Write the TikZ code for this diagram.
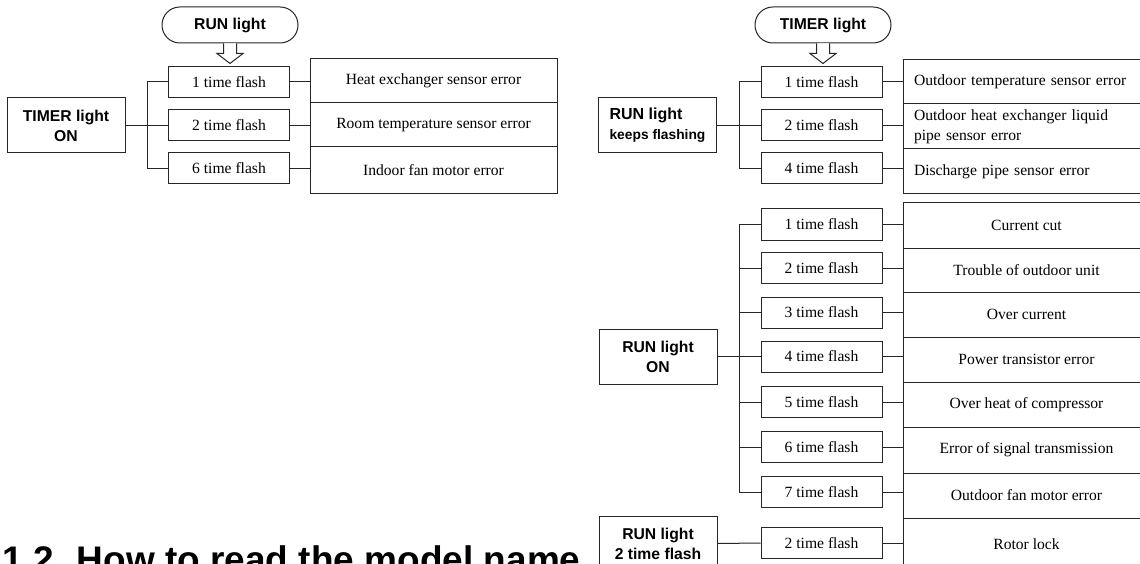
\documentclass[tikz,border=0pt]{standalone}
\usepackage{fontspec}
\setmainfont{Liberation Serif}
\newfontfamily\hv{Liberation Sans}
\usetikzlibrary{calc}
\tikzset{
  ln/.style={draw=black!85, line width=1pt},
  wire/.style={draw=black!85, line width=1pt},
  oval/.style={ln, rounded corners=17.9pt, minimum width=136pt, minimum height=36pt, inner sep=0pt,
    font=\hv\bfseries\fontsize{15.7}{18}\selectfont},
  flash/.style={ln, minimum width=121pt, minimum height=31pt, inner sep=0pt,
    font=\fontsize{15.6}{18}\selectfont},
  state/.style={ln, minimum width=118pt, minimum height=55pt, inner sep=0pt, align=center,
    font=\hv\bfseries\fontsize{15.7}{20}\selectfont},
  err/.style={ln, minimum width=247pt, inner sep=0pt, align=center,
    font=\fontsize{15.6}{20}\selectfont},
  errl/.style={err, align=left, text width=225pt},
  hollow/.style={wire, fill=white, line join=miter},
}
\begin{document}
\begin{tikzpicture}[x=1pt,y=-1pt]
\useasboundingbox (0,0) rectangle (1140,564);
\clip (0,0) rectangle (1140,564);
\fill[white] (0,0) rectangle (1140,564);

% ---------- left diagram ----------
\node[oval] (run) at (230,25) {RUN light};
\node[flash] (f1) at (229,82) {1 time flash};
\node[flash] (f2) at (229,125.5) {2 time flash};
\node[flash] (f6) at (229,168.5) {6 time flash};
\node[state] (ton) at (66,125.5) {TIMER light\\ON};
\node[err, minimum height=44pt] (e1) at (433.5,81) {Heat exchanger sensor error};
\node[err, minimum height=44pt] (e2) at (433.5,125) {Room temperature sensor error};
\node[err, minimum height=47pt] (e3) at (433.5,170.5) {Indoor fan motor error};

\draw[hollow] ($(run.south)+(-6.5,0)$) -- ++(0,10) -- ++(-6.5,0) -- ($(run.south)+(0,20)$)
  -- ($(run.south)+(13,10)$) -- ++(-6.5,0) -- ($(run.south)+(6.5,0)$);
\draw[wire] (ton.east) -- (f2.west);
\draw[wire] (f1.west) -- ++(-21,0) |- (f6.west);
\foreach \s/\t in {f1/e1,f2/e2,f6/e3}
  \draw[wire] (\s.east) -- (\s.east -| \t.west);

% ---------- right top diagram ----------
\node[oval] (timer) at (823,25) {TIMER light};
\node[flash] (g1) at (821.5,82) {1 time flash};
\node[flash] (g2) at (821.5,125.5) {2 time flash};
\node[flash] (g4) at (821.5,168.5) {4 time flash};
\node[state, align=left] (rkf) at (657.5,125.5)
  {{\fontsize{16}{20}\selectfont RUN light}\\{\fontsize{13.8}{21}\selectfont keeps flashing}};
\node[errl, minimum height=44pt] (r1) at (1026.5,82) {Outdoor temperature sensor error};
\node[errl, minimum height=45pt] (r2) at (1026.5,126.5) {Outdoor heat exchanger liquid\\pipe sensor error};
\node[errl, minimum height=45pt] (r3) at (1026.5,171.5) {Discharge pipe sensor error};

\draw[hollow] ($(timer.south)+(-6.5,0)$) -- ++(0,10) -- ++(-6.5,0) -- ($(timer.south)+(0,20)$)
  -- ($(timer.south)+(13,10)$) -- ++(-6.5,0) -- ($(timer.south)+(6.5,0)$);
\draw[wire] (rkf.east) -- (g2.west);
\draw[wire] (g1.west) -- ++(-21,0) |- (g4.west);
\foreach \s/\t in {g1/r1,g2/r2,g4/r3}
  \draw[wire] (\s.east) -- (\s.east -| \t.west);

% ---------- right middle diagram ----------
\node[flash] (h1) at (821.5,224.5) {1 time flash};
\node[flash] (h2) at (821.5,268) {2 time flash};
\node[flash] (h3) at (821.5,312.5) {3 time flash};
\node[flash] (h4) at (821.5,356.5) {4 time flash};
\node[flash] (h5) at (821.5,402) {5 time flash};
\node[flash] (h6) at (821.5,447) {6 time flash};
\node[flash] (h7) at (821.5,492) {7 time flash};
\node[state] (ron) at (658,356.5) {RUN light\\ON};
\node[err, minimum height=45pt] (s1) at (1026.5,225.5) {Current cut};
\node[err, minimum height=44pt] (s2) at (1026.5,270) {Trouble of outdoor unit};
\node[err, minimum height=45pt] (s3) at (1026.5,314.5) {Over current};
\node[err, minimum height=45pt] (s4) at (1026.5,359.5) {Power transistor error};
\node[err, minimum height=45pt] (s5) at (1026.5,404.5) {Over heat of compressor};
\node[err, minimum height=46pt] (s6) at (1026.5,450) {Error of signal transmission};
\node[err, minimum height=45pt] (s7) at (1026.5,495.5) {Outdoor fan motor error};
\draw[wire] (ron.east) -- (h4.west);
\draw[wire] (h1.west) -- ++(-21,0) |- (h7.west);
\foreach \i in {2,3,5,6}
  \draw[wire] (h\i.west) -- ++(-21,0);
\foreach \i in {1,...,7}
  \draw[wire] (h\i.east) -- (h\i.east -| s\i.west);

% ---------- rotor lock ----------
\node[state] (r2f) at (658,543.5) {RUN light\\2 time flash};
\node[flash] (k2) at (821.5,543) {2 time flash};
\node[err, minimum height=52pt] (s8) at (1026.5,544) {Rotor lock};
\draw[wire] (r2f.east) -- (k2.west);
\draw[wire] (k2.east) -- (k2.east -| s8.west);

% ---------- heading (cut by the page edge, as in the reference) ----------
\node[anchor=base west, inner sep=0pt, font=\hv\bfseries\fontsize{37}{44}\selectfont]
  (title) at (2,572) {1.2.\hspace{0.35em}How to read the model name};
\end{tikzpicture}
\end{document}
